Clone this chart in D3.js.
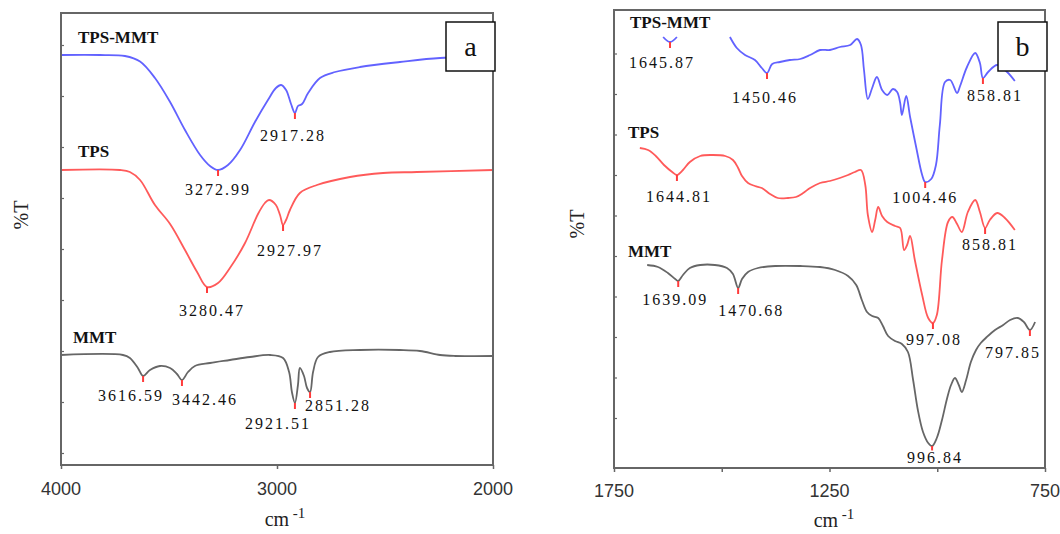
<!DOCTYPE html>
<html>
<head>
<meta charset="utf-8">
<script src="https://cdn.jsdelivr.net/npm/d3@7"></script>
<style>
  body { margin: 0; background: #fff; }
  svg { display: block; }
  .num { font-family: "Liberation Serif", serif; font-size: 16px; letter-spacing: 2px; fill: #111;
         stroke: #fff; stroke-width: 3px; paint-order: stroke; }
  .series { font-family: "Liberation Serif", serif; font-size: 17px; font-weight: bold; fill: #111; }
  .tick { font-family: "Liberation Sans", sans-serif; font-size: 18px; fill: #333; }
  .axtitle { font-family: "Liberation Serif", serif; font-size: 20px; fill: #222; }
  .tag { font-family: "Liberation Serif", serif; font-size: 28px; fill: #111; }
</style>
</head>
<body>
<svg id="chart" width="1060" height="534"></svg>
<script>
// spectra: [wavenumber (cm-1), %T with offsets as stacked in the figure]
// panel a, 4000-2000 cm-1
const aTpsMmt = [[4000,82],[3819,82],[3704,81.8],[3634,80.7],[3565,77.4],[3495,72.6],[3426,67],[3356,62],[3310,59.8],
  [3273,59],[3227,60],[3171,63],[3102,68.6],[3042,73],[3005,75.4],[2981,76],[2958,75],[2935,72.2],[2917,70.4],
  [2903,71.8],[2884,72.2],[2856,74.4],[2801,77.4],[2731,78.6],[2616,79.6],[2431,80.6],[2245,81.4],[2000,81.6]]
const aTps = [[4000,59],[3727,59],[3681,58.6],[3634,57],[3565,52],[3495,48.2],[3426,43],[3370,38.6],[3324,35.6],
  [3273,36.4],[3218,39.4],[3148,44.4],[3088,50.2],[3056,52.4],[3037,53],[3005,52],[2986,50],[2972,48],[2958,49],
  [2940,51],[2894,54.4],[2815,56],[2662,57.6],[2509,58.4],[2352,58.6],[2000,59]]
const aMmt = [[4000,22],[3713,22],[3681,21.4],[3644,19.4],[3620,17.8],[3588,19],[3542,19.8],[3495,19.4],[3463,18.2],
  [3440,17],[3412,18.6],[3380,19.8],[3310,20.4],[3218,21],[3125,21.6],[3032,22],[2972,21.4],[2944,18.6],[2931,14.6],
  [2917,12.4],[2903,16],[2894,19.4],[2875,17.8],[2861,15.4],[2847,14.6],[2833,18.6],[2810,21.6],[2755,22.6],
  [2616,23],[2431,23],[2338,22.8],[2245,22],[2176,21.8],[2000,21.8]]

// panel b, 1750-750 cm-1 (null = gap in the trace)
const bTpsMmt = [[1636,86.2],[1620,85.2],[1604,86.2],null,
  [1481,86.2],[1465,84],[1446,82.6],[1423,81.6],[1407,80],[1395,79],[1383,80.8],[1365,81.2],[1342,81.6],[1318,81.8],
  [1295,82.6],[1272,83.6],[1249,83.6],[1226,84.2],[1202,84.6],[1186,85.8],[1177,84.6],[1170,79.6],[1161,73.8],
  [1151,76],[1140,78.2],[1128,75.6],[1116,74.6],[1103,75.8],[1093,75.2],[1086,73],[1082,70.6],[1072,74.4],
  [1063,70.2],[1049,64.2],[1035,58.6],[1028,57.2],[1014,57.8],[1003,60.6],[994,68.6],[982,77.2],[970,77.6],
  [954,75],[947,76.4],[931,80.2],[912,83],[901,81],[894,78],[882,79.2],[861,80.6],[838,79.2],[820,77.4]]
const bTps = [[1690,64],[1671,63.6],[1653,62.4],[1634,60.6],[1615,59.2],[1604,58.6],[1590,59.6],[1574,61.2],
  [1550,62.4],[1523,62.6],[1492,62.4],[1474,61.6],[1462,60],[1453,58.4],[1439,57],[1423,56.4],[1407,56],
  [1388,54.8],[1370,54],[1346,54],[1328,54.2],[1311,55],[1295,56],[1272,57],[1249,57.4],[1226,58],[1207,58.6],
  [1191,59.2],[1177,59.6],[1167,56.6],[1161,50.6],[1151,47.2],[1144,49.6],[1137,52.2],[1128,50.4],[1116,49.2],
  [1098,48.4],[1086,48],[1077,43.6],[1070,44.6],[1063,46.4],[1052,41.6],[1035,34.6],[1021,30],[1010,29],
  [1001,30.6],[989,41.6],[975,49.2],[965,50.2],[954,48.8],[943,47.2],[929,51.2],[912,53.6],[901,51.2],
  [889,48],[878,49.6],[861,51],[843,50],[820,47.6]]
const bMmt = [[1673,40.6],[1648,40.2],[1625,39],[1608,37.8],[1601,37.4],[1590,38.6],[1574,40],[1550,40.6],
  [1516,40.6],[1488,40],[1474,38.8],[1462,36],[1453,37.8],[1439,39.2],[1416,40],[1376,40.4],[1318,40.4],
  [1272,40.2],[1237,39.6],[1207,38.4],[1188,36.6],[1175,33.6],[1163,31.2],[1151,30.4],[1137,30],[1126,28.4],
  [1114,26.4],[1098,25.4],[1082,24.8],[1068,23.2],[1056,17.6],[1045,11.6],[1033,7.2],[1021,5],[1012,4.4],
  [1001,6],[989,9.6],[977,14],[968,16.6],[959,18],[950,16.6],[943,15.2],[933,17.6],[922,21.2],[910,23.6],
  [899,25],[885,26.2],[866,27.6],[847,28.6],[831,29.6],[813,30],[799,29.2],[785,27.6],[773,29.2]]

// marked peaks (cm-1)
const aTpsMmtPeaks = ['3272.99', '2917.28']
const aTpsPeaks = ['3280.47', '2927.97']
const aMmtPeaks = ['3616.59', '3442.46', '2921.51', '2851.28']
const bTpsMmtPeaks = ['1645.87', '1450.46', '1004.46', '858.81']
const bTpsPeaks = ['1644.81', '997.08', '858.81']
const bMmtPeaks = ['1639.09', '1470.68', '996.84', '797.85']

const colors = { 'TPS-MMT': '#6262ff', TPS: '#ff5a5a', MMT: '#666' }

const panels = [
  {
    tag: 'a', xDomain: [4000, 2000], xTicks: [4000, 3000, 2000], xLabels: [4000, 3000, 2000],
    yDomain: [0, 90.4], yTicks: [2.4, 12.6, 22.8, 33, 43.2, 53.4, 63.6, 73.8, 84],
    box: { left: 61, right: 493, top: 13, bottom: 465 },
    tickLabelY: 30, titleX: 285, titleY: 61, yTitle: [21, 215],
    series: [
      { name: 'TPS-MMT', data: aTpsMmt, peaks: aTpsMmtPeaks, at: [78, 43], offs: [[0, 25], [-2, 28]] },
      { name: 'TPS', data: aTps, peaks: aTpsPeaks, at: [78, 157], offs: [[5, 29], [7, 31]] },
      { name: 'MMT', data: aMmt, peaks: aMmtPeaks, at: [73, 343], offs: [[-12, 25], [23, 25], [-17, 26], [28, 19]] }
    ]
  },
  {
    tag: 'b', xDomain: [1750, 750], xTicks: [1750, 1500, 1250, 1000, 750], xLabels: [1750, 1250, 750],
    yDomain: [0, 91.6], yTicks: [10, 18.1, 26.2, 34.3, 42.4, 50.5, 58.6, 66.7, 74.8, 82.9],
    box: { left: 614, right: 1045, top: 10, bottom: 468 },
    tickLabelY: 29, titleX: 834, titleY: 59, yTitle: [577, 224],
    series: [
      { name: 'TPS-MMT', data: bTpsMmt, peaks: bTpsMmtPeaks, at: [630, 28], offs: [[-8, 26], [-2, 30], [0, 21], [12, 23]] },
      { name: 'TPS', data: bTps, peaks: bTpsPeaks, at: [628, 138], offs: [[2, 27], [1, 22], [5, 22]] },
      { name: 'MMT', data: bMmt, peaks: bMmtPeaks, at: [628, 257], offs: [[-3, 24], [13, 28], [3, 17], [-17, 28]] }
    ]
  }
]

// the marker sits on the local minimum of the trace nearest the labelled wavenumber
function snapToMinimum (data, value) {
  let best = null
  for (let i = 1; i < data.length - 1; i++) {
    const p = data[i], a = data[i - 1], b = data[i + 1]
    if (!p || !a || !b) continue
    if (p[1] <= a[1] && p[1] <= b[1]) {
      if (!best || Math.abs(p[0] - value) < Math.abs(best[0] - value)) best = p
    }
  }
  return best
}

const svg = d3.select('#chart')

panels.forEach(panel => {
  const { box } = panel
  const x = d3.scaleLinear().domain(panel.xDomain).range([box.left, box.right])
  const y = d3.scaleLinear().domain(panel.yDomain).range([box.bottom, box.top])
  const g = svg.append('g')

  // traces
  const line = d3.line()
    .defined(d => d)
    .x(d => x(d[0]))
    .y(d => y(d[1]))
    .curve(d3.curveCatmullRom.alpha(0.5))

  panel.series.forEach(s => {
    g.append('path')
      .attr('d', line(s.data))
      .attr('fill', 'none')
      .attr('stroke', colors[s.name])
      .attr('stroke-width', 1.8)
      .attr('stroke-linejoin', 'round')
  })

  // frame
  g.append('rect')
    .attr('x', box.left).attr('y', box.top)
    .attr('width', box.right - box.left).attr('height', box.bottom - box.top)
    .attr('fill', 'none').attr('stroke', '#666').attr('stroke-width', 2)

  // x axis ticks and labels
  const xAxis = d3.axisBottom(x).tickValues(panel.xTicks).tickSize(4).tickFormat('')
  const xg = g.append('g').attr('transform', `translate(0,${box.bottom})`).call(xAxis)
  xg.select('.domain').remove()
  xg.selectAll('line').attr('stroke', '#666').attr('stroke-width', 1.5)
  g.selectAll('.xlab')
    .data(panel.xLabels)
    .enter().append('text')
    .attr('class', 'tick')
    .attr('x', d => x(d))
    .attr('y', box.bottom + panel.tickLabelY)
    .attr('text-anchor', 'middle')
    .text(d => d)

  // y axis minor ticks (no labels)
  const yAxis = d3.axisRight(y).tickValues(panel.yTicks).tickSize(3).tickFormat('')
  const yg = g.append('g').attr('transform', `translate(${box.left},0)`).call(yAxis)
  yg.select('.domain').remove()
  yg.selectAll('line').attr('stroke', '#666').attr('stroke-width', 1.2)

  // axis titles
  const t = g.append('text').attr('class', 'axtitle')
    .attr('x', panel.titleX).attr('y', box.bottom + panel.titleY)
    .attr('text-anchor', 'middle')
  t.append('tspan').text('cm')
  t.append('tspan').attr('dy', -8).attr('font-size', 15).text(' -1')

  g.append('text').attr('class', 'axtitle')
    .attr('transform', `translate(${panel.yTitle[0]},${panel.yTitle[1]}) rotate(-90)`)
    .attr('text-anchor', 'middle')
    .attr('dy', '0.35em')
    .text('%T')

  // series names, peak markers and peak labels
  panel.series.forEach(s => {
    g.append('text').attr('class', 'series')
      .attr('x', s.at[0]).attr('y', s.at[1])
      .text(s.name)

    s.peaks.forEach((label, i) => {
      const p = snapToMinimum(s.data, +label)
      const px = x(p[0]), py = y(p[1])
      g.append('line')
        .attr('x1', px).attr('x2', px)
        .attr('y1', py).attr('y2', py + 6)
        .attr('stroke', '#ff3b3b').attr('stroke-width', 2)
      g.append('text').attr('class', 'num')
        .attr('x', px + s.offs[i][0])
        .attr('y', py + s.offs[i][1])
        .attr('text-anchor', 'middle')
        .text(label)
    })
  })

  // panel tag box
  const tagW = 49, tagH = 49
  g.append('rect')
    .attr('x', box.right - tagW + 2).attr('y', 22)
    .attr('width', tagW).attr('height', tagH)
    .attr('fill', '#fff').attr('stroke', '#111').attr('stroke-width', 1.5)
  g.append('text').attr('class', 'tag')
    .attr('x', box.right - tagW / 2 + 2).attr('y', 56)
    .attr('text-anchor', 'middle')
    .text(panel.tag)
})
</script>
</body>
</html>
